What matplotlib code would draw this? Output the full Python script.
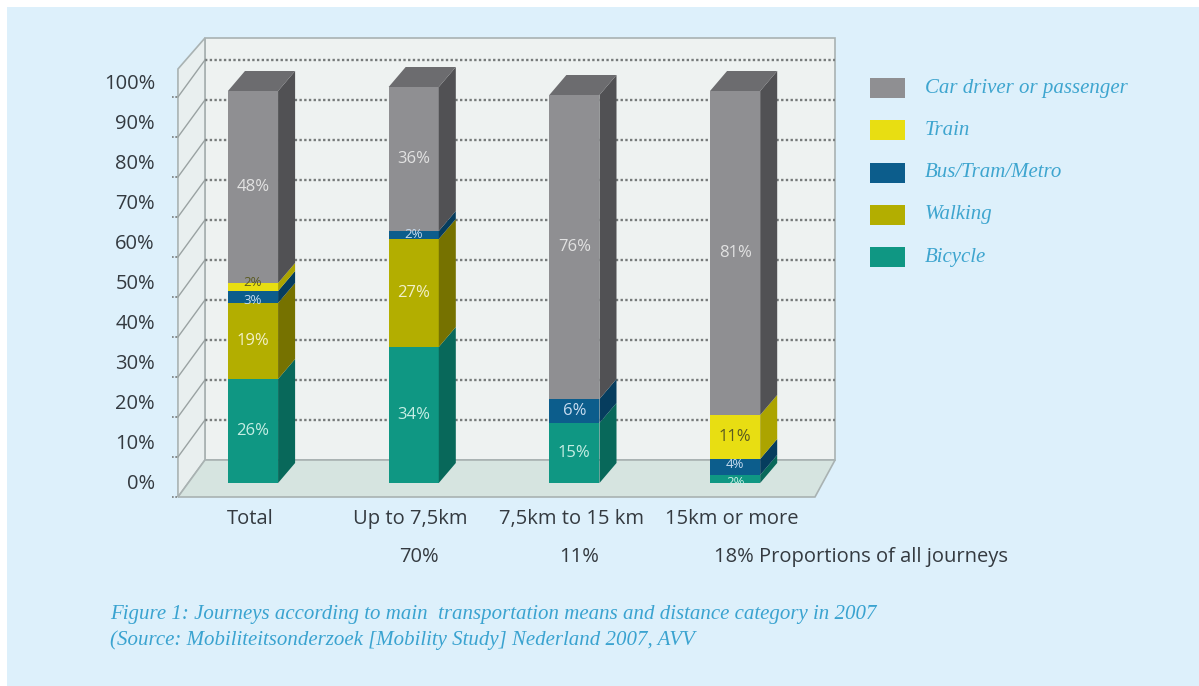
import matplotlib.pyplot as plt
from matplotlib.patches import Polygon, Rectangle

# journeys by main transport mode and distance category (2007)
categories = ['Total', 'Up to 7,5km', '7,5km to 15 km', '15km or more']
shares = ['', '70%', '11%', '18%']
share_note = 'Proportions of all journeys'

bicycle = [26, 34, 15, 2]
walking = [19, 27, 0, 0]
bus = [3, 2, 6, 4]
train = [2, 0, 0, 11]
car = [48, 36, 76, 81]

modes = ['Bicycle', 'Walking', 'Bus/Tram/Metro', 'Train', 'Car driver or passenger']
series = [bicycle, walking, bus, train, car]
front = ['#0f9783', '#b3ae00', '#0c5d8c', '#e8de12', '#8f8f92']
side = ['#08685a', '#767200', '#063d5e', '#aca400', '#515154']
top = ['#0b7d6c', '#928e00', '#084a72', '#c9c000', '#6c6c6f']
txt = ['#c6eee4', '#f2f0c8', '#c8dcf0', '#5a5a20', '#e2e2e2']

yticks = list(range(0, 101, 10))

W, H = 1199, 686
fig = plt.figure(figsize=(W / 100, H / 100), dpi=100)
fig.patch.set_facecolor('white')
fig.add_artist(Rectangle((7 / W, 0), 1, (H - 7) / H, transform=fig.transFigure,
                         facecolor='#ddf0fb', edgecolor='none', zorder=0))

ax = fig.add_axes([0, 0, 1, 1])
ax.set_axis_off()
ax.set_xlim(-253 / 160.7, (W - 253) / 160.7)
ax.set_ylim((483 - H) / 4, 483 / 4)

# box geometry (x in category units, y in percent)
bw = 0.156
ddx, ddy = 0.106, 5.0
floor_front, floor_back = -3.5, 5.75
wall_dy = floor_back - floor_front
wlf, wlb = -0.467, -0.299
wrf, wrb = 3.497, 3.622
wall_top = 111.25
edge = '#a9b2b2'
dark = '#343a40'

ax.add_patch(Polygon([(wlb, floor_back), (wrb, floor_back), (wrb, wall_top), (wlb, wall_top)],
                     facecolor='#eef2f1', edgecolor=edge, lw=1.2, zorder=1))
ax.add_patch(Polygon([(wlf, floor_front), (wlb, floor_back), (wlb, wall_top), (wlf, wall_top - wall_dy + 1.5)],
                     facecolor='#e9efef', edgecolor=edge, lw=1.2, zorder=1))
ax.add_patch(Polygon([(wlf, floor_front), (wrf, floor_front), (wrb, floor_back), (wlb, floor_back)],
                     facecolor='#d6e4e0', edgecolor=edge, lw=1.2, zorder=1))

for v in yticks[1:]:
    ax.plot([wlb, wrb], [floor_back + v] * 2, color='#767a7a', lw=1.7,
            ls=(0, (1, 1)), zorder=2)
    ax.plot([wlf, wlb], [floor_front + v, floor_back + v], color='#9aa2a2', lw=1,
            zorder=2)
for v in yticks:
    ax.plot([wlf - 0.04, wlf], [floor_front + v] * 2, color='#767a7a', lw=1.2,
            ls=(0, (1, 1)), zorder=2)
    ax.text(-0.61, v - 0.25, f'{v}%', ha='right', va='center', fontsize=14.5,
            color=dark, family='Open Sans')

# stacked 3D-style bars
min_gap = 4.5
for i in range(len(categories)):
    base = 0
    prev = None
    for k, vals in enumerate(series):
        h = vals[i]
        if h == 0:
            continue
        ax.add_patch(Rectangle((i - bw, base), 2 * bw, h, facecolor=front[k],
                               edgecolor='none', zorder=3))
        ax.add_patch(Polygon([(i + bw, base), (i + bw + ddx, base + ddy),
                              (i + bw + ddx, base + h + ddy), (i + bw, base + h)],
                             facecolor=side[k], edgecolor='none', zorder=3))
        ypos = base + h / 2
        # spread labels of thin neighbouring segments apart
        if prev is not None and ypos - prev.get_position()[1] < min_gap:
            shift = (min_gap - (ypos - prev.get_position()[1])) / 2
            prev.set_position((i, prev.get_position()[1] - shift))
            ypos += shift
        fs = 12 if h >= 5 else 9.5
        prev = ax.text(i, ypos, f'{h}%', ha='center', va='center', fontsize=fs,
                       color=txt[k], family='Open Sans', zorder=4)
        base += h
        last = k
    ax.add_patch(Polygon([(i - bw, base), (i + bw, base), (i + bw + ddx, base + ddy),
                          (i - bw + ddx, base + ddy)],
                         facecolor=top[last], edgecolor='none', zorder=3))

for i, c in enumerate(categories):
    ax.text(i - 0.02, -9, c, ha='center', va='center', fontsize=14.5,
            color=dark, family='Open Sans')
for i, s in enumerate(shares[:-1]):
    ax.text(i + 0.03, -18.5, s, ha='center', va='center', fontsize=14.5,
            color=dark, family='Open Sans')
ax.text(2.87, -18.5, f'{shares[-1]} {share_note}', ha='left', va='center',
        fontsize=14.5, color=dark, family='Open Sans')

# legend, top entry first
for n, k in enumerate(reversed(range(len(modes)))):
    yc = 1 - (88 + 42.3 * n) / H
    fig.add_artist(Rectangle((870 / W, yc - 10 / H), 35 / W, 20 / H,
                             transform=fig.transFigure, facecolor=front[k],
                             edgecolor='none'))
    fig.text(925 / W, yc, modes[k], ha='left', va='center', fontsize=15,
             style='italic', color='#3ea5cf', family='Liberation Serif')

fig.text(110 / W, 1 - 615 / H,
         'Figure 1: Journeys according to main  transportation means and distance category in 2007',
         ha='left', va='center', fontsize=15, style='italic', color='#3aa3d0',
         family='Liberation Serif')
fig.text(110 / W, 1 - 640 / H,
         '(Source: Mobiliteitsonderzoek [Mobility Study] Nederland 2007, AVV',
         ha='left', va='center', fontsize=15, style='italic', color='#3aa3d0',
         family='Liberation Serif')

fig.savefig('out.png', dpi=100)
